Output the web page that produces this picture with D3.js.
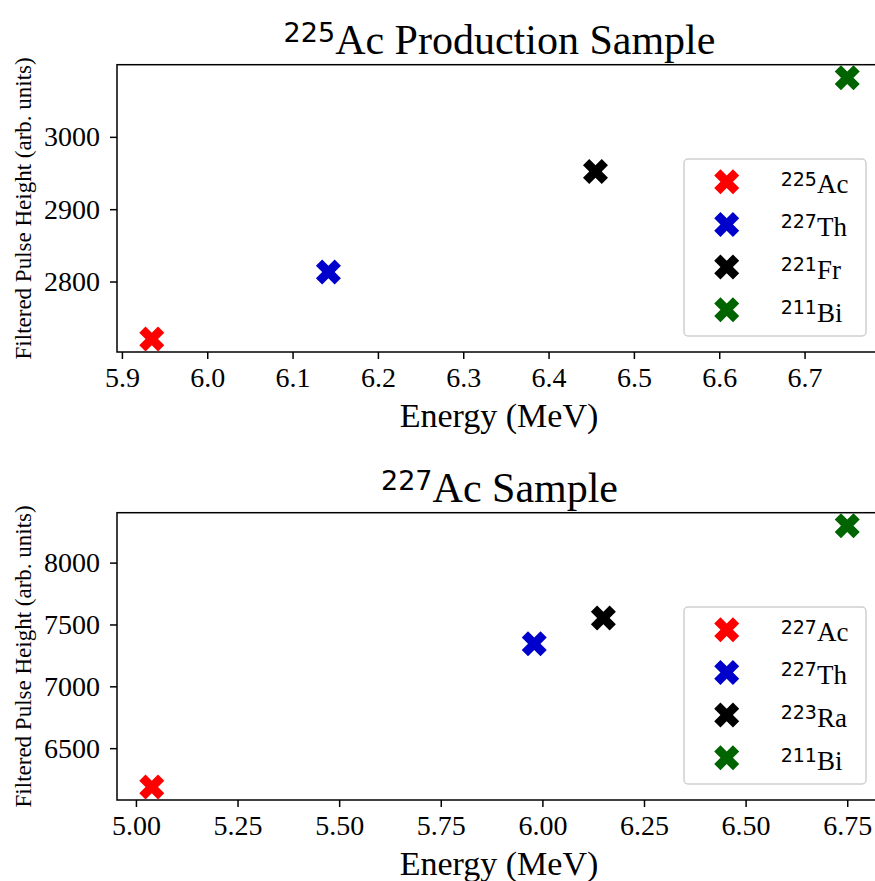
<!DOCTYPE html>
<html>
<head>
<meta charset="utf-8">
<script src="https://cdn.jsdelivr.net/npm/d3@7"></script>
<style>
  body { margin: 0; background: #fff; }
  svg { display: block; }
</style>
</head>
<body>
<svg id="chart"></svg>
<script>
// top panel: 225Ac production sample
const topMass = ["225", "227", "221", "211"];
const topElem = ["Ac", "Th", "Fr", "Bi"];
const topEnergy = [5.935, 6.142, 6.455, 6.75];
const topPulse = [2720.6, 2813, 2952, 3081.7];
const topXTicks = [5.9, 6.0, 6.1, 6.2, 6.3, 6.4, 6.5, 6.6, 6.7];
const topYTicks = [2800, 2900, 3000];

// bottom panel: 227Ac sample
const botMass = ["227", "227", "223", "211"];
const botElem = ["Ac", "Th", "Ra", "Bi"];
const botEnergy = [5.039, 5.98, 6.15, 6.75];
const botPulse = [6186.5, 7345, 7553, 8298];
const botXTicks = [5.00, 5.25, 5.50, 5.75, 6.00, 6.25, 6.50, 6.75];
const botYTicks = [6500, 7000, 7500, 8000];

const colors = ["#ff0000", "#0000cd", "#000000", "#006400"];

const width = 875, height = 881;
const serif = "'Liberation Serif', 'Times New Roman', serif";
const sans = "'DejaVu Sans', sans-serif";

const svg = d3.select("#chart")
  .attr("width", width)
  .attr("height", height);

// matplotlib-style filled X marker
function xMarker(size) {
  const pts = [[-1, -2], [0, -1], [1, -2], [2, -1], [1, 0], [2, 1],
               [1, 2], [0, 1], [-1, 2], [-2, 1], [-1, 0], [-2, -1]];
  return "M" + pts.map(p => [p[0] * size / 4, p[1] * size / 4].join(",")).join("L") + "Z";
}

function padded(values) {
  const [lo, hi] = d3.extent(values);
  const m = (hi - lo) * 0.05;
  return [lo - m, hi + m];
}

function drawPanel(opt) {
  const left = 117, right = 882;
  const top = opt.top, bottom = opt.top + 287.3;
  const g = svg.append("g");

  const x = d3.scaleLinear().domain(padded(opt.energy)).range([left, right]);
  const y = d3.scaleLinear().domain(padded(opt.pulse)).range([bottom, top]);

  // title with superscript
  const title = g.append("text")
    .attr("x", (left + right) / 2)
    .attr("y", top - 11)
    .attr("text-anchor", "middle")
    .style("font-family", serif)
    .style("font-size", "42px");
  title.append("tspan")
    .attr("dy", "-12")
    .style("font-family", sans)
    .style("font-size", "27px")
    .text(opt.titleMass);
  title.append("tspan")
    .attr("dy", "12")
    .text(opt.titleRest);

  // axes
  const xAxis = g.append("g")
    .attr("transform", `translate(0,${bottom})`)
    .call(d3.axisBottom(x).tickValues(opt.xTicks).tickFormat(d3.format(opt.xFmt))
      .tickSize(7).tickPadding(8).tickSizeOuter(0));
  const yAxis = g.append("g")
    .attr("transform", `translate(${left},0)`)
    .call(d3.axisLeft(y).tickValues(opt.yTicks).tickFormat(d3.format("d"))
      .tickSize(7).tickPadding(10).tickSizeOuter(0));
  [xAxis, yAxis].forEach(a => {
    a.select(".domain").remove();
    a.selectAll(".tick line").attr("stroke", "#000").attr("stroke-width", 1.5);
    a.selectAll(".tick text")
      .style("font-family", serif)
      .style("font-size", "28px")
      .attr("fill", "#000");
  });

  // frame
  g.append("rect")
    .attr("x", left).attr("y", top)
    .attr("width", right - left).attr("height", bottom - top)
    .attr("fill", "none")
    .attr("stroke", "#000")
    .attr("stroke-width", 1.5);

  // axis labels
  g.append("text")
    .attr("x", (left + right) / 2 - 0.5)
    .attr("y", bottom + 75)
    .attr("text-anchor", "middle")
    .style("font-family", serif)
    .style("font-size", "34px")
    .text("Energy (MeV)");
  g.append("text")
    .attr("transform", `translate(31,${(top + bottom) / 2}) rotate(-90)`)
    .attr("text-anchor", "middle")
    .style("font-family", serif)
    .style("font-size", "23px")
    .text("Filtered Pulse Height (arb. units)");

  // points
  g.selectAll("path.pt")
    .data(opt.energy)
    .enter().append("path")
    .attr("class", "pt")
    .attr("d", xMarker(25))
    .attr("transform", (d, i) => `translate(${x(d)},${y(opt.pulse[i])})`)
    .attr("fill", (d, i) => colors[i]);

  // legend, lower right
  const boxW = 182, boxH = 177;
  const bx = right - 16 - boxW, by = bottom - 16 - boxH;
  const leg = g.append("g").attr("transform", `translate(${bx},${by})`);
  leg.append("rect")
    .attr("width", boxW).attr("height", boxH)
    .attr("rx", 4)
    .attr("fill", "#fff")
    .attr("fill-opacity", 0.8)
    .attr("stroke", "#d0d0d0")
    .attr("stroke-width", 1.5);
  const rows = leg.selectAll("g.row")
    .data(opt.mass)
    .enter().append("g")
    .attr("class", "row")
    .attr("transform", (d, i) => `translate(0,${22.7 + i * 42.7})`);
  rows.append("path")
    .attr("d", xMarker(25))
    .attr("transform", "translate(42.7,0)")
    .attr("fill", (d, i) => colors[i]);
  const lt = rows.append("text")
    .attr("x", 96.7)
    .attr("y", 11.7)
    .style("font-family", serif)
    .style("font-size", "27px");
  lt.append("tspan")
    .attr("dy", "-7.7")
    .style("font-family", sans)
    .style("font-size", "19px")
    .text(d => d);
  lt.append("tspan")
    .attr("dy", "7.7")
    .text((d, i) => opt.elem[i]);
}

drawPanel({
  top: 64.7, energy: topEnergy, pulse: topPulse, mass: topMass, elem: topElem,
  xTicks: topXTicks, yTicks: topYTicks, xFmt: ".1f",
  titleMass: "225", titleRest: "Ac Production Sample"
});
drawPanel({
  top: 512.7, energy: botEnergy, pulse: botPulse, mass: botMass, elem: botElem,
  xTicks: botXTicks, yTicks: botYTicks, xFmt: ".2f",
  titleMass: "227", titleRest: "Ac Sample"
});
</script>
</body>
</html>
